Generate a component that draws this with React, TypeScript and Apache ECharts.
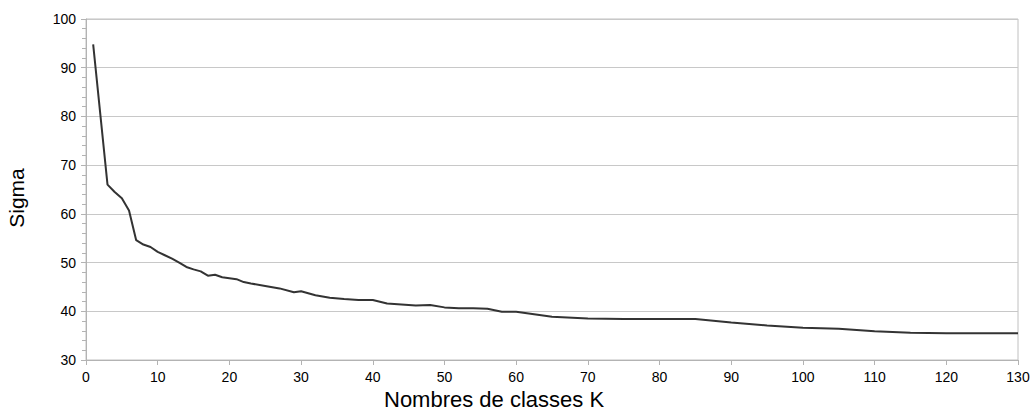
import React, { useEffect, useRef } from "react";
import * as echarts from "echarts";

const kValues = [1, 3, 4, 5, 6, 7, 8, 9, 10, 11, 12, 13, 14, 15, 16, 17, 18, 19, 21, 22, 23, 25, 27, 29, 30, 32, 34, 36, 38, 40, 42, 44, 46, 48, 50, 52, 54, 56, 58, 60, 65, 70, 75, 80, 85, 90, 95, 100, 105, 110, 115, 120, 125, 130];
const sigmaValues = [94.8, 66.0, 64.5, 63.2, 60.7, 54.6, 53.7, 53.2, 52.2, 51.5, 50.8, 50.0, 49.1, 48.6, 48.2, 47.3, 47.5, 47.0, 46.6, 46.0, 45.7, 45.2, 44.7, 43.9, 44.1, 43.3, 42.8, 42.5, 42.3, 42.3, 41.6, 41.4, 41.2, 41.3, 40.8, 40.6, 40.6, 40.5, 39.9, 39.9, 38.9, 38.5, 38.4, 38.4, 38.4, 37.7, 37.1, 36.6, 36.4, 35.9, 35.6, 35.5, 35.5, 35.5];
const xTitle = "Nombres de classes K";
const yTitle = "Sigma";

export default function App() {
  const ref = useRef<HTMLDivElement>(null);
  useEffect(() => {
    if (!ref.current) return;
    const chart = echarts.init(ref.current, undefined, { renderer: "svg" });
    const font = "'Liberation Sans', Arial, sans-serif";
    chart.setOption({
      animation: false,
      backgroundColor: "#ffffff",
      grid: {
        left: 86,
        right: 17,
        top: 19,
        bottom: 50,
        show: true,
        borderColor: "#c0c0c0",
        borderWidth: 1,
      },
      xAxis: {
        type: "value",
        min: 0,
        max: 130,
        interval: 10,
        axisLine: { show: true, lineStyle: { color: "#b3b3b3", width: 1 } },
        axisTick: { show: true, length: 5, lineStyle: { color: "#b3b3b3" } },
        axisLabel: { color: "#000", fontSize: 14, fontFamily: font, margin: 10 },
        splitLine: { show: false },
      },
      yAxis: {
        type: "value",
        min: 30,
        max: 100,
        interval: 10,
        axisLine: { show: true, lineStyle: { color: "#b3b3b3", width: 1 } },
        axisTick: { show: true, length: 5, lineStyle: { color: "#b3b3b3" } },
        minorTick: { show: true, splitNumber: 5, length: 4, lineStyle: { color: "#b3b3b3" } },
        axisLabel: { color: "#000", fontSize: 14, fontFamily: font, margin: 10 },
        splitLine: { show: true, lineStyle: { color: "#c8c8c8", width: 1 } },
      },
      graphic: [
        {
          type: "text",
          left: 384,
          top: 388,
          style: { text: xTitle, fontSize: 22, fontFamily: font, fill: "#000" },
        },
        {
          type: "text",
          x: 6,
          y: 198,
          rotation: Math.PI / 2,
          style: { text: yTitle, fontSize: 21, fontFamily: font, fill: "#000", align: "center", verticalAlign: "top" },
        },
      ],
      series: [
        {
          type: "line",
          data: kValues.map((k, i) => [k, sigmaValues[i]]),
          showSymbol: false,
          lineStyle: { color: "#333333", width: 2 },
        },
      ],
    });
    return () => chart.dispose();
  }, []);
  return (
    <div
      ref={ref}
      style={{ position: "fixed", left: 0, top: 0, width: 1035, height: 410 }}
    />
  );
}
